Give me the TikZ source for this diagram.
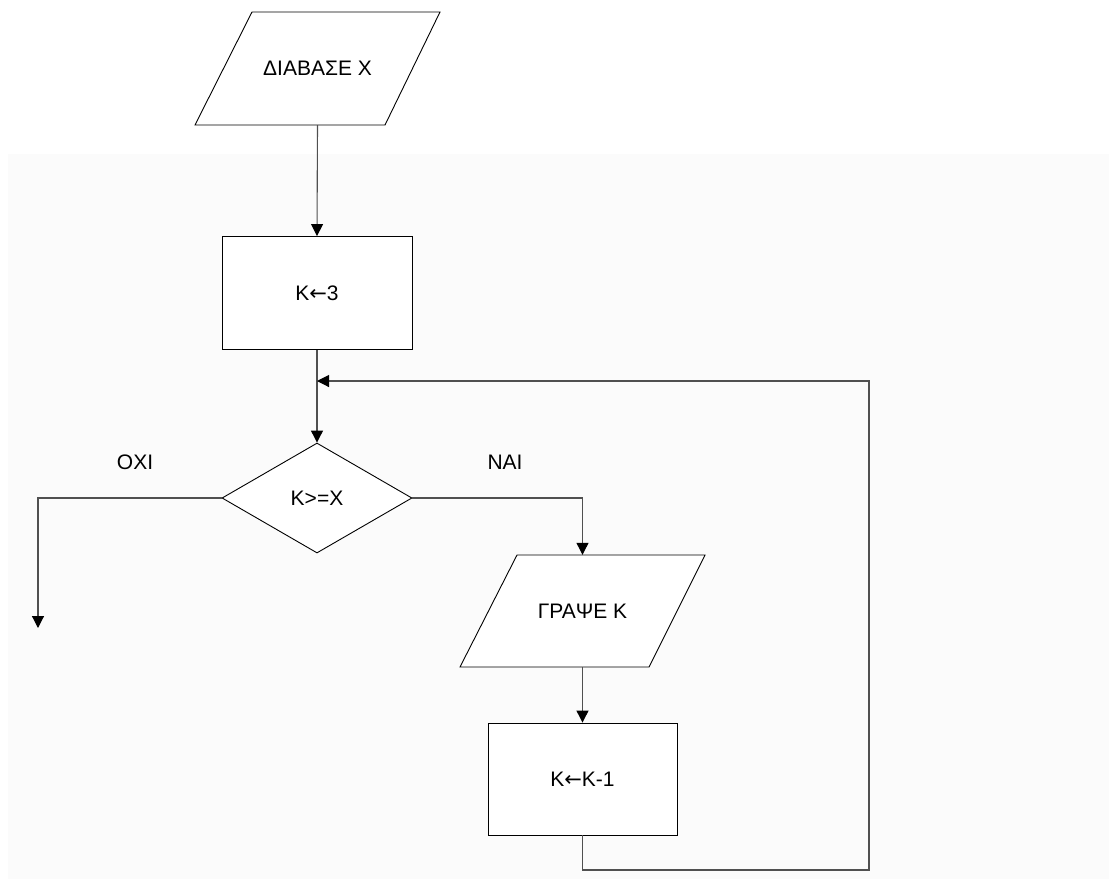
\documentclass[tikz,border=0pt]{standalone}
\usepackage{fontspec}
\setmainfont{Liberation Sans}
\newfontfamily\arrowfont{DejaVu Sans}
\usetikzlibrary{shapes.geometric,arrows.meta}
\definecolor{bgpage}{RGB}{251,251,251}
\definecolor{wire}{RGB}{80,80,80}
\newcommand{\larr}{{\arrowfont\fontsize{21}{25}\selectfont ←}}
\tikzset{
  every node/.style={font=\fontsize{21}{25}\selectfont},
  proc/.style={draw=black,line width=0.9pt,fill=white,rectangle,minimum width=190pt,minimum height=113pt,inner sep=0pt},
  iobox/.style={rectangle,minimum width=190pt,minimum height=113pt,inner sep=0pt},
  ioline/.style={draw=black,line width=0.9pt,fill=white,line join=miter},
  decide/.style={draw=black,line width=0.9pt,fill=white,diamond,minimum width=190pt,minimum height=110pt,inner sep=0pt},
  flow/.style={draw=wire,line width=1.1pt,-{Triangle[width=12pt,length=12pt,color=black]}},
  lbl/.style={inner sep=0pt}
}
\begin{document}
\begin{tikzpicture}[x=1pt,y=-1pt]
\useasboundingbox (0,0) rectangle (1109,879);
\fill[bgpage] (8,154) rectangle (1109,879);

% parallelogram outlines
\draw[ioline] (252,12) -- (440,12) -- (385,125) -- (195,125) -- cycle;
\draw[ioline] (517,555) -- (705,555) -- (649,667) -- (460,667) -- cycle;

\node[iobox] (read) at (317.5,68.5) {ΔΙΑΒΑΣΕ Χ};
\node[proc] (init) at (317,293) {Κ\larr 3};
\node[decide] (test) at (317,498) {Κ>=Χ};
\node[iobox,minimum height=112pt] (write) at (582.5,611) {ΓΡΑΨΕ Κ};
\node[proc,minimum width=189pt,minimum height=112pt] (dec) at (582.5,779) {Κ\larr Κ-1};

\node[lbl] (no) at (135,462) {ΟΧΙ};
\node[lbl] (yes) at (505,462) {ΝΑΙ};

\coordinate (exit) at (38,628);
\coordinate (lb) at (869,870);
\coordinate (lt) at (869,381);
\coordinate (lj) at (317,381);

\draw[flow] (read.south) -- (init.north);
\draw[flow] (init.south) -- (test.north);
\draw[flow] (test.west) -| (exit);
\draw[flow] (test.east) -| (write.north);
\draw[flow] (write.south) -- (dec.north);
\draw[flow] (dec.south) |- (lb) -- (lt) -- (lj);
\end{tikzpicture}
\end{document}
